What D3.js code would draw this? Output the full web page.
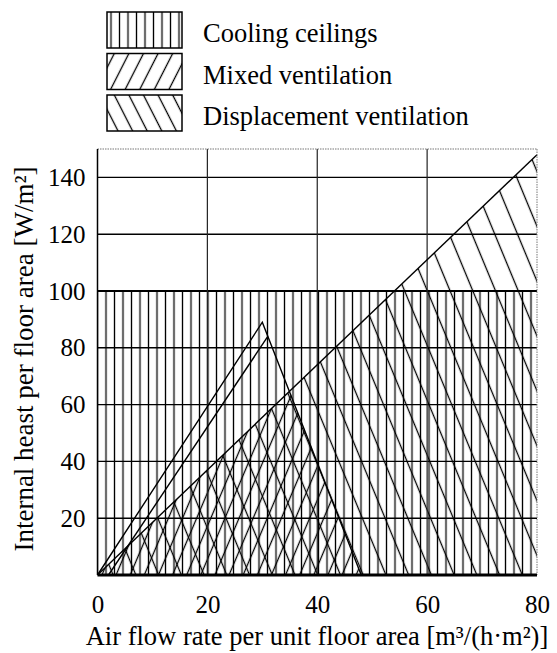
<!DOCTYPE html>
<html>
<head>
<meta charset="utf-8">
<script src="https://cdn.jsdelivr.net/npm/d3@7"></script>
<style>
	body { margin: 0; background: #fff; }
	text { font-family: 'Liberation Serif', 'DejaVu Serif', serif; fill: #000; }
</style>
</head>
<body>
<svg id="canvas" width="557" height="653"></svg>
<script>
// chart values
const xTicks = [0, 20, 40, 60, 80];
const yTicks = [20, 40, 60, 80, 100, 120, 140];
const xGrid = [20, 40, 60];
const coolingArea = [[0, 0], [0, 100], [80, 100], [80, 0]];
const mixedOutline = [[0, 0], [30, 89], [48, 0]];
const mixedInner = [[2, 0], [31, 84]];
const mixedHatchArea = [[0, 0], [35, 64.7], [48, 0]];
const displacementArea = [[0, 0], [80, 148], [80, 0]];
const legendLabels = ['Cooling ceilings', 'Mixed ventilation', 'Displacement ventilation'];
const xTitle = 'Air flow rate per unit floor area [m³/(h·m²)]';
const yTitle = 'Internal heast per floor area [W/m²]';

let svg = d3.select('#canvas');

let x = d3.scaleLinear().domain([0, 80]).range([97.5, 537]);
let y = d3.scaleLinear().domain([0, 150]).range([575, 149]);

// hatch patterns
let defs = svg.append('defs');
let hatch = (id, gap, angle, x0) => {
	let p = defs.append('pattern')
		.attr('id', id)
		.attr('patternUnits', 'userSpaceOnUse')
		.attr('width', gap)
		.attr('height', 40)
		.attr('x', x0)
		.attr('patternTransform', 'rotate(' + angle + ')');
	p.append('line')
		.attr('x1', gap / 2).attr('x2', gap / 2)
		.attr('y1', -5).attr('y2', 45)
		.attr('stroke', '#000')
		.attr('stroke-width', 1.3);
};
hatch('hatch-cool', 8.5, 0, x(0) + 4.25 - 8.5);
hatch('hatch-mixed', 13, 23, 0);
hatch('hatch-disp', 21, -22.5, 0);
hatch('hatch-mixed-l', 13, 27, 0);
hatch('hatch-disp-l', 13, -27, 0);

let line = d3.line().x(d => x(d[0])).y(d => y(d[1]));
let poly = d => line(d) + 'Z';

svg.append('path').attr('d', poly(coolingArea)).attr('fill', 'url(#hatch-cool)');
svg.append('path').attr('d', poly(mixedHatchArea)).attr('fill', 'url(#hatch-mixed)');
svg.append('path').attr('d', poly(displacementArea)).attr('fill', 'url(#hatch-disp)');

// grid
svg.selectAll('.hgrid')
	.data(yTicks)
	.enter()
	.append('line')
	.attr('class', 'hgrid')
	.attr('x1', x(0)).attr('x2', x(80))
	.attr('y1', d => y(d)).attr('y2', d => y(d))
	.attr('stroke', '#000')
	.attr('stroke-width', d => (d === 100 ? 2 : 1.4));

svg.selectAll('.vgrid')
	.data(xGrid)
	.enter()
	.append('line')
	.attr('class', 'vgrid')
	.attr('x1', d => x(d)).attr('x2', d => x(d))
	.attr('y1', y(150)).attr('y2', y(0))
	.attr('stroke', '#222')
	.attr('stroke-width', 1.2);

// region outlines
svg.append('path').attr('d', line(mixedOutline)).attr('fill', 'none').attr('stroke', '#000').attr('stroke-width', 1.4);
svg.append('path').attr('d', line(mixedInner)).attr('fill', 'none').attr('stroke', '#000').attr('stroke-width', 1.4);
svg.append('path').attr('d', line(displacementArea.slice(0, 2))).attr('fill', 'none').attr('stroke', '#000').attr('stroke-width', 1.4);

// frame
svg.append('line').attr('x1', x(0)).attr('x2', x(80)).attr('y1', y(150)).attr('y2', y(150))
	.attr('stroke', '#777').attr('stroke-width', 1).attr('stroke-dasharray', '1.5,1');
svg.append('line').attr('x1', x(80)).attr('x2', x(80)).attr('y1', y(150)).attr('y2', y(0))
	.attr('stroke', '#777').attr('stroke-width', 1).attr('stroke-dasharray', '1.5,1');
svg.append('line').attr('x1', x(0)).attr('x2', x(0)).attr('y1', y(150)).attr('y2', y(0))
	.attr('stroke', '#000').attr('stroke-width', 1.5);
svg.append('line').attr('x1', x(0)).attr('x2', x(80)).attr('y1', y(0)).attr('y2', y(0))
	.attr('stroke', '#000').attr('stroke-width', 3);

// axes
let xAxis = d3.axisBottom(x).tickValues(xTicks).tickSize(0).tickPadding(20);
svg.append('g')
	.attr('transform', 'translate(0,' + y(0) + ')')
	.call(xAxis)
	.attr('font-family', 'Liberation Serif, serif')
	.attr('font-size', 25)
	.call(g => g.select('.domain').remove());

let yAxis = d3.axisLeft(y).tickValues(yTicks).tickSize(0).tickPadding(12);
svg.append('g')
	.attr('transform', 'translate(' + x(0) + ',0)')
	.call(yAxis)
	.attr('font-family', 'Liberation Serif, serif')
	.attr('font-size', 25)
	.call(g => g.select('.domain').remove());

svg.append('text')
	.attr('x', 317)
	.attr('y', 645)
	.attr('text-anchor', 'middle')
	.style('font-size', '26.5px')
	.text(xTitle);

svg.append('text')
	.attr('transform', 'translate(33,359) rotate(-90)')
	.attr('text-anchor', 'middle')
	.style('font-size', '27px')
	.text(yTitle);

// legend
let legend = svg.selectAll('.legend')
	.data(legendLabels)
	.enter()
	.append('g')
	.attr('class', 'legend')
	.attr('transform', (d, i) => 'translate(107,' + (12 + i * 41.5) + ')');

let fills = ['url(#hatch-cool)', 'url(#hatch-mixed-l)', 'url(#hatch-disp-l)'];

legend.append('rect')
	.attr('width', 75)
	.attr('height', 36)
	.attr('fill', (d, i) => fills[i])
	.attr('stroke', '#000')
	.attr('stroke-width', 1.5);

legend.append('text')
	.attr('x', 96)
	.attr('y', 30)
	.style('font-size', '26.5px')
	.text(d => d);
</script>
</body>
</html>
